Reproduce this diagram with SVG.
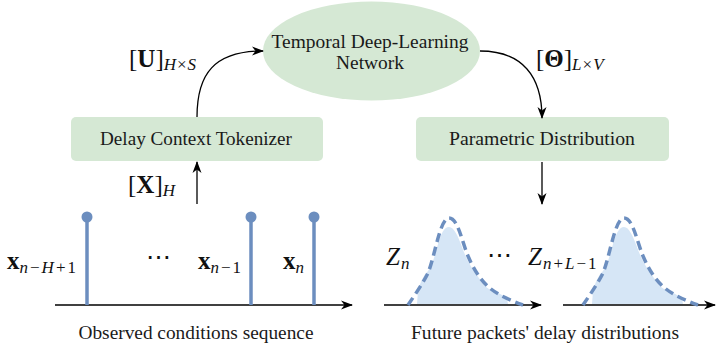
<svg xmlns="http://www.w3.org/2000/svg" width="716" height="347" viewBox="0 0 716 347">
  <defs>
    <style>
      .lbl { font-family: "Liberation Serif", "DejaVu Serif", serif; font-size: 18px; fill: #1a1a1a; }
      .math { font-family: "Liberation Serif", "DejaVu Serif", serif; font-size: 25px; fill: #111; }
      .sub { font-size: 17px; font-style: italic; }
      .op { font-size: 17px; }
      .bf { font-weight: bold; }
      .node { fill: #d5e8d4; }
      .conn { fill: none; stroke: #000; stroke-width: 1.3; }
      .axis { fill: none; stroke: #000; stroke-width: 1.3; }
      .stem { stroke: #6c8ebf; stroke-width: 3.5; }
      .dot { fill: #6c8ebf; }
      .pdf { fill: none; stroke: #6c8ebf; stroke-width: 3.5; stroke-dasharray: 9 5; }
      .hist { fill: #d6e6f6; }
    </style>
    <marker id="stealth" viewBox="0 0 12 10" refX="11" refY="5" markerWidth="12" markerHeight="10" markerUnits="userSpaceOnUse" orient="auto">
      <path d="M0,0.5 L12,5 L0,9.5 L3.5,5 z" fill="#000"/>
    </marker>
    <!-- one delay distribution: histogram-like fill with a dashed density curve on top -->
    <g id="dist">
      <path class="hist" d="M417,304 L418,291 C420,283 423,276 428,271 C432,266 435,255 438,244 C441,234 444,227 449,227 C454,227 458,236 462,247 C466,258 470,266 475,272 C480,280 484,286 489,289 C495,292 503,294 507,299 L508,304 Z"/>
      <path class="pdf" d="M408,305 C414,296 422,285 428,273 C435,256 440,218 449,218 C458,218 462,242 468,256 C474,270 481,281 491,289 C500,296 512,301 523,305"/>
    </g>
  </defs>

  <rect width="716" height="347" fill="#fff"/>

  <!-- processing nodes -->
  <g id="network">
    <ellipse class="node" cx="371.5" cy="51" rx="108.5" ry="49.5"/>
    <text class="lbl" x="370" y="48" text-anchor="middle" textLength="197" lengthAdjust="spacingAndGlyphs">Temporal Deep-Learning</text>
    <text class="lbl" x="370" y="69" text-anchor="middle" textLength="68" lengthAdjust="spacingAndGlyphs">Network</text>
  </g>
  <g id="tokenizer">
    <rect class="node" x="71" y="117" width="252" height="44" rx="5"/>
    <text class="lbl" x="196" y="145" text-anchor="middle" textLength="192" lengthAdjust="spacingAndGlyphs">Delay Context Tokenizer</text>
  </g>
  <g id="parametric">
    <rect class="node" x="416" y="117" width="253" height="44" rx="5"/>
    <text class="lbl" x="542" y="145" text-anchor="middle" textLength="186" lengthAdjust="spacingAndGlyphs">Parametric Distribution</text>
  </g>

  <!-- connectors -->
  <g id="connectors">
    <path class="conn" d="M197,204 L197,162" marker-end="url(#stealth)"/>
    <path class="conn" d="M197,117 C197,74 214,51 263,51" marker-end="url(#stealth)"/>
    <path class="conn" d="M480,51 C522,51 542,76 542,118" marker-end="url(#stealth)"/>
    <path class="conn" d="M542,162 L542,204" marker-end="url(#stealth)"/>
  </g>

  <!-- tensor labels -->
  <g id="tensor-labels">
    <text class="math" x="129" y="67">[<tspan class="bf">U</tspan>]<tspan class="sub" dy="3">H</tspan><tspan class="op" dx="1">×</tspan><tspan class="sub" dx="1">S</tspan></text>
    <text class="math" x="536" y="67">[<tspan class="bf">Θ</tspan>]<tspan class="sub" dy="3">L</tspan><tspan class="op" dx="1">×</tspan><tspan class="sub" dx="1">V</tspan></text>
    <text class="math" x="128" y="193">[<tspan class="bf">X</tspan>]<tspan class="sub" dy="3">H</tspan></text>
  </g>

  <!-- observed conditions: stem plot -->
  <g id="observed">
    <path class="axis" d="M55,305 L352,305" marker-end="url(#stealth)"/>
    <line class="stem" x1="87" y1="217" x2="87" y2="305"/>
    <line class="stem" x1="251" y1="217" x2="251" y2="305"/>
    <line class="stem" x1="314" y1="217" x2="314" y2="305"/>
    <circle class="dot" cx="87" cy="217" r="5.5"/>
    <circle class="dot" cx="251" cy="217" r="5.5"/>
    <circle class="dot" cx="314" cy="217" r="5.5"/>
    <text class="math" x="7" y="269"><tspan class="bf">x</tspan><tspan class="sub" dy="4">n</tspan><tspan class="op" dx="2">−</tspan><tspan class="sub" dx="2">H</tspan><tspan class="op" dx="2">+</tspan><tspan class="op" dx="2">1</tspan></text>
    <text class="math" x="146" y="265">⋯</text>
    <text class="math" x="198" y="269"><tspan class="bf">x</tspan><tspan class="sub" dy="4">n</tspan><tspan class="op" dx="2">−</tspan><tspan class="op" dx="2">1</tspan></text>
    <text class="math" x="283" y="269"><tspan class="bf">x</tspan><tspan class="sub" dy="4">n</tspan></text>
    <text class="lbl" x="196" y="339" text-anchor="middle" textLength="235" lengthAdjust="spacingAndGlyphs">Observed conditions sequence</text>
  </g>

  <!-- future delay distributions -->
  <g id="future">
    <path class="axis" d="M384,305 L541,305" marker-end="url(#stealth)"/>
    <path class="axis" d="M563,305 L715,305" marker-end="url(#stealth)"/>
    <use href="#dist"/>
    <use href="#dist" transform="translate(175,0)"/>
    <text class="math" x="386" y="265"><tspan font-style="italic">Z</tspan><tspan class="sub" dy="4" dx="1">n</tspan></text>
    <text class="math" x="487" y="263">⋯</text>
    <text class="math" x="528" y="265"><tspan font-style="italic">Z</tspan><tspan class="sub" dy="4" dx="1">n</tspan><tspan class="op" dx="2">+</tspan><tspan class="sub" dx="2">L</tspan><tspan class="op" dx="2">−</tspan><tspan class="op" dx="2">1</tspan></text>
    <text class="lbl" x="545" y="339" text-anchor="middle" textLength="268" lengthAdjust="spacingAndGlyphs">Future packets' delay distributions</text>
  </g>
</svg>
